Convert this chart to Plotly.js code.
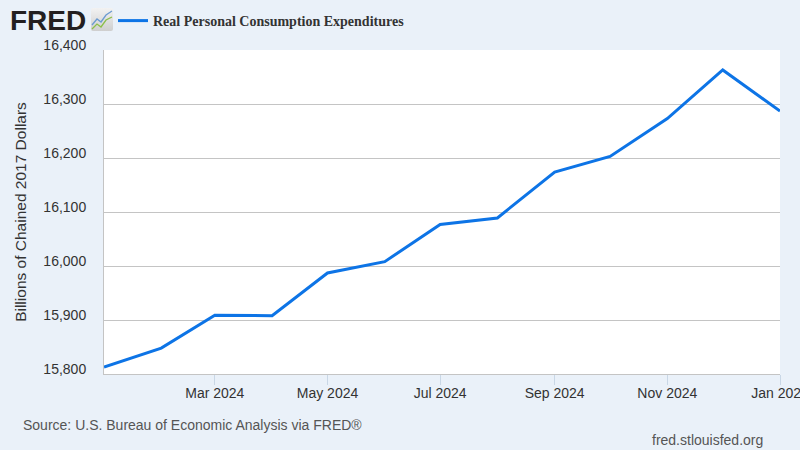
<!DOCTYPE html>
<html>
<head>
<meta charset="utf-8">
<script src="https://cdn.plot.ly/plotly-3.0.1.min.js"></script>
<style>html,body{margin:0;padding:0;background:#eaf1f9;}#chart{width:800px;height:450px;}</style>
</head>
<body>
<div id="chart"></div>
<script>
// Data (monthly, billions of chained 2017 dollars)
const months = ["2024-01-01","2024-02-01","2024-03-01","2024-04-01","2024-05-01","2024-06-01","2024-07-01","2024-08-01","2024-09-01","2024-10-01","2024-11-01","2024-12-01","2025-01-01"];
const pceValues = [15813, 15848, 15909, 15908, 15987, 16008, 16077, 16089, 16174, 16203, 16273, 16363, 16287];
const seriesName = "Real Personal Consumption Expenditures";
const xTickVals = ["2024-03-01","2024-05-01","2024-07-01","2024-09-01","2024-11-01","2025-01-01"];
const yTitle = "Billions of Chained 2017 Dollars";
const sourceText = "Source: U.S. Bureau of Economic Analysis via FRED®";
const siteText = "fred.stlouisfed.org";

const L = 104, R = 20, T = 50, B = 76, W = 800, H = 450;
const pw = W - L - R, ph = H - T - B;
const px = v => (v - L) / pw;
const py = v => (H - B - v) / ph;

const logoSvg = '<svg xmlns="http://www.w3.org/2000/svg" width="22" height="23" viewBox="0 0 22 23">' +
  '<defs><linearGradient id="g" x1="0" y1="0" x2="0" y2="1"><stop offset="0" stop-color="#f2f2f2"/><stop offset="1" stop-color="#cfcfcf"/></linearGradient></defs>' +
  '<rect x="0" y="0" width="22" height="23" rx="2" fill="url(#g)"/>' +
  '<polyline points="1,17 6,11 10,14 15,7 21,3" fill="none" stroke="#6b9bd1" stroke-width="1.3"/>' +
  '<polyline points="1,21 6,16 10,19 15,12 21,9" fill="none" stroke="#8cbf4a" stroke-width="1.3"/>' +
  '</svg>';

const trace = {
  x: months, y: pceValues, type: 'scatter', mode: 'lines', name: seriesName,
  line: {color: '#0d74e6', width: 3}, hoverinfo: 'skip'
};

const layout = {
  width: W, height: H,
  margin: {l: L, r: R, t: T, b: B},
  paper_bgcolor: '#eaf1f9', plot_bgcolor: '#ffffff',
  font: {family: 'Liberation Sans, Arial, sans-serif', size: 14, color: '#333333'},
  showlegend: true,
  legend: {
    xref: 'container', yref: 'container', x: 113 / W, y: 1 - 5 / H,
    xanchor: 'left', yanchor: 'top', orientation: 'h',
    bgcolor: 'rgba(0,0,0,0)',
    font: {family: 'Liberation Serif, Times New Roman, serif', size: 14, color: '#333333', weight: 'bold'},
    itemwidth: 30
  },
  xaxis: {
    type: 'date', range: ['2024-01-01', '2025-01-01'],
    tickvals: xTickVals, tickformat: '%b %Y', ticklabeloverflow: 'allow',
    ticks: 'outside', ticklen: 10, tickcolor: '#c9d7e6', tickwidth: 1,
    ticklabelstandoff: -4,
    showgrid: false, showline: true, linecolor: '#c4c4c4', linewidth: 1,
    zeroline: false, fixedrange: true,
    tickfont: {size: 14, color: '#333333'}
  },
  yaxis: {
    range: [15800, 16400], dtick: 100, tick0: 15800, tickformat: ',d',
    showgrid: true, gridcolor: '#c4c4c4', gridwidth: 1,
    showline: true, linecolor: '#c4c4c4', linewidth: 1,
    zeroline: false, ticks: '', ticklabelstandoff: 14, ticklabelshift: -5,
    tickfont: {size: 14, color: '#333333'},
    title: {text: yTitle, font: {size: 15.5, color: '#333333'}, standoff: 12},
    fixedrange: true
  },
  images: [{
    source: 'data:image/svg+xml;charset=utf-8,' + encodeURIComponent(logoSvg),
    xref: 'paper', yref: 'paper', x: px(91), y: py(8),
    sizex: 22 / pw, sizey: 23 / ph, xanchor: 'left', yanchor: 'top', sizing: 'stretch', layer: 'above'
  }],
  annotations: [
    {text: 'FRED', xref: 'paper', yref: 'paper', x: px(8), y: py(20), xanchor: 'left', yanchor: 'middle',
     showarrow: false, font: {family: 'Liberation Sans, Arial, sans-serif', size: 28, color: '#231f20', weight: 'bold'}},
    {text: sourceText, xref: 'paper', yref: 'paper', x: px(21), y: py(425), xanchor: 'left', yanchor: 'middle',
     showarrow: false, font: {size: 14, color: '#555555'}},
    {text: siteText, xref: 'paper', yref: 'paper', x: px(765), y: py(440), xanchor: 'right', yanchor: 'middle',
     showarrow: false, font: {size: 14, color: '#555555'}}
  ]
};

Plotly.newPlot('chart', [trace], layout, {staticPlot: true, displayModeBar: false});
</script>
</body>
</html>
